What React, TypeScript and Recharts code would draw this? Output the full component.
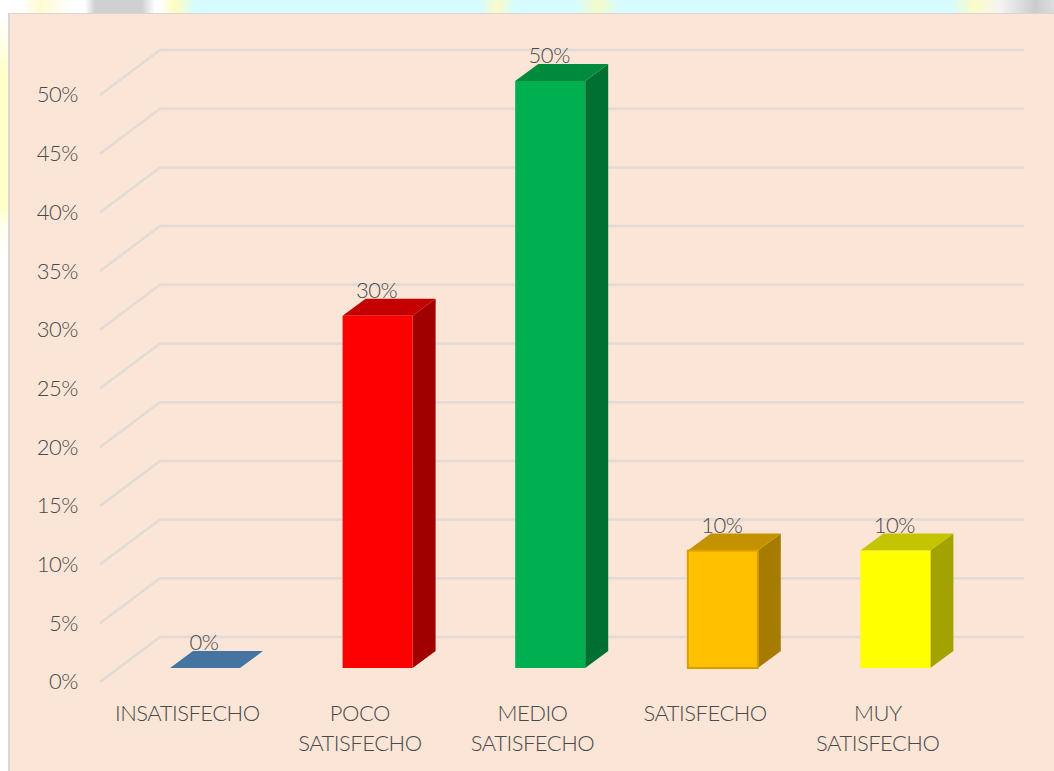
import React from "react";
import { BarChart, Bar, XAxis, YAxis, CartesianGrid, LabelList } from "recharts";

const categories = ["INSATISFECHO", "POCO SATISFECHO", "MEDIO SATISFECHO", "SATISFECHO", "MUY SATISFECHO"];
const values = [0, 30, 50, 10, 10];
const yTicks = [0, 5, 10, 15, 20, 25, 30, 35, 40, 45, 50];
const frontColors = ["#44749F", "#FF0000", "#00B050", "#FFC000", "#FFFF00"];
const sideColors = ["#44749F", "#A00000", "#006F32", "#A67C00", "#A3A300"];
const topColors = ["#44749F", "#C40000", "#008A3E", "#C49200", "#C4C400"];
const edgeColors = ["none", "none", "none", "#D9A000", "none"];

const rows = categories.map((name, i) => ({ name, value: values[i], idx: i }));

const DX = 23;
const DY = 17;
const FONT = "Lato, 'Open Sans', sans-serif";
const TEXT = "#4A4A4A";
const FS = 22;
const LS = -0.5;

const Bar3D = (props: any) => {
  const { x, y, width, height, idx } = props;
  const r = x + width;
  const b = y + height;
  return (
    <g>
      {height > 0 && (
        <polygon points={`${r},${y} ${r + DX},${y - DY} ${r + DX},${b - DY} ${r},${b}`} fill={sideColors[idx]} />
      )}
      <polygon points={`${x},${y} ${x + DX},${y - DY} ${r + DX},${y - DY} ${r},${y}`} fill={topColors[idx]} />
      {height > 0 && (
        <rect x={x} y={y} width={width} height={height} fill={frontColors[idx]} stroke={edgeColors[idx]} strokeWidth={2} />
      )}
    </g>
  );
};

const GridLine = (props: any) => {
  const y = props.y1;
  return (
    <polyline
      points={`100,${y + 14} 160,${y - 31} 1024,${y - 31}`}
      fill="none"
      stroke="#E2DAD4"
      strokeWidth={2.5}
    />
  );
};

const YTick = (props: any) => (
  <text x={78} y={props.y + 13.5} dy="0.36em" textAnchor="end" fontFamily={FONT} fontSize={FS} letterSpacing={LS} fontWeight={300} fill={TEXT}>
    {props.payload.value}%
  </text>
);

const XTick = (props: any) => {
  const words = String(props.payload.value).split(" ");
  return (
    <text x={props.x - 18} textAnchor="middle" fontFamily={FONT} fontSize={FS} letterSpacing={LS} fontWeight={300} fill={TEXT}>
      {words.map((w, i) => (
        <tspan key={i} x={props.x - 18} y={721 + i * 29.5}>
          {w}
        </tspan>
      ))}
    </text>
  );
};

const ValueLabel = (props: any) => {
  const { x, y, width, value } = props;
  return (
    <text x={x + width / 2 - 1} y={y - 25.5} dy="0.36em" textAnchor="middle" fontFamily={FONT} fontSize={FS} letterSpacing={LS} fontWeight={300} fill={TEXT}>
      {value}%
    </text>
  );
};

export default function App() {
  return (
    <div style={{ position: "absolute", left: 0, top: 0, width: 1054, height: 771, overflow: "hidden", background: "#FFFFFF" }}>
      <div
        style={{
          position: "absolute",
          left: 0,
          top: 0,
          width: 1054,
          height: 13,
          background:
            "linear-gradient(90deg,#fff 0,#fff 22px,#FFFBD0 40px,#fff 70px,#fff 85px,#d0d0d0 95px,#d0d0d0 142px,#fff 155px,#fff 160px,#FFFCC0 175px,#D6FCFF 195px,#D6FCFF 480px,#FAFBC8 497px,#D6FCFF 515px,#D6FCFF 575px,#F5FBC8 598px,#D6FCFF 620px,#D6FCFF 950px,#FBFBC8 975px,#f4f4f4 1000px,#ccc 1035px,#ddd 1054px)",
        }}
      />
      <div
        style={{
          position: "absolute",
          left: 0,
          top: 13,
          width: 8,
          height: 758,
          background: "linear-gradient(180deg,#fff 0,#FFFFE8 30px,#FFFFC8 60px,#FFFFC8 190px,#FFFFF0 215px,#fff 245px,#fff 758px)",
        }}
      />
      <div
        style={{
          position: "absolute",
          left: 8,
          top: 13,
          width: 1046,
          height: 758,
          boxSizing: "border-box",
          background: "#FAE5D7",
          borderLeft: "2px solid #D9D5D2",
          borderTop: "1px solid #D9D5D2",
        }}
      />
      <div style={{ position: "absolute", left: 0, top: 0 }}>
        <BarChart width={1054} height={771} data={rows} margin={{ top: 81, right: 72, bottom: 0, left: 0 }} barCategoryGap={0}>
          <CartesianGrid vertical={false} horizontal={GridLine as any} />
          <XAxis dataKey="name" axisLine={false} tickLine={false} interval={0} tick={XTick as any} height={103} />
          <YAxis type="number" domain={[0, 50]} ticks={yTicks} width={119} axisLine={false} tickLine={false} tick={YTick as any} />
          <Bar dataKey="value" barSize={70} isAnimationActive={false} shape={Bar3D as any}>
            <LabelList dataKey="value" content={ValueLabel as any} />
          </Bar>
        </BarChart>
      </div>
    </div>
  );
}
